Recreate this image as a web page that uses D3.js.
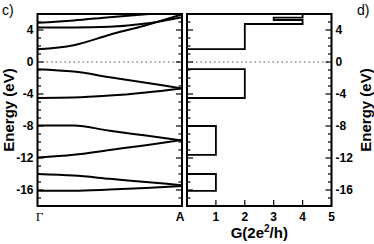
<!DOCTYPE html>
<html>
<head>
<meta charset="utf-8">
<script src="https://cdn.jsdelivr.net/npm/d3@7"></script>
<style>
  body { margin: 0; background: #fff; }
  svg text { font-family: "Liberation Sans", Arial, sans-serif; }
</style>
</head>
<body>
<div id="chart"></div>
<script>
var svgWidth = 374;
var svgHeight = 244;

// band structure, k from Gamma (0) to A (1)
var kPoints = [0, 0.25, 0.5, 0.75, 1];
var bands = [
  [4.9, 5.2, 5.6, 5.97, 6.3],
  [4.3, 4.3, 4.4, 4.8, 5.6],
  [1.6, 2.1, 3.4, 4.6, 5.95],
  [-0.9, -1.2, -1.9, -2.6, -3.3],
  [-4.5, -4.45, -4.2, -3.8, -3.3],
  [-7.95, -7.95, -8.6, -9.2, -9.8],
  [-11.95, -11.6, -11.0, -10.4, -9.75],
  [-14.0, -14.2, -14.6, -15.0, -15.4],
  [-16.1, -16.1, -15.95, -15.75, -15.5]
];

// conductance staircase vertices (G in 2e^2/h, E in eV)
var condG = [4, 4, 3, 3, 4, 4, 2, 2, 0, 0, 2, 2, 0, 0, 1, 1, 0, 0, 1, 1, 0, 0];
var condE = [6, 5.55, 5.55, 5.25, 5.25, 4.75, 4.75, 1.6, 1.6, -0.9, -0.9, -4.5, -4.5, -8, -8, -11.6, -11.6, -14, -14, -16.1, -16.1, -18];

var energyTicks = [4, 0, -4, -8, -12, -16];
var gTicks = [1, 2, 3, 4, 5];

var plotTop = 14, plotBottom = 206;
var leftPanel = { x0: 37.5, x1: 182 };
var rightPanel = { x0: 187, x1: 331.5 };

var svg = d3.select("#chart")
  .append("svg")
  .attr("width", svgWidth)
  .attr("height", svgHeight);

var yScale = d3.scaleLinear().domain([-18, 6]).range([plotBottom, plotTop]);
var kScale = d3.scaleLinear().domain([0, 1]).range([leftPanel.x0, leftPanel.x1]);
var gScale = d3.scaleLinear().domain([0, 5]).range([rightPanel.x0, rightPanel.x1]);

var minorTicks = d3.range(-18, 7, 1);

// clip for bands
svg.append("clipPath").attr("id", "clipL")
  .append("rect")
  .attr("x", leftPanel.x0).attr("y", plotTop)
  .attr("width", leftPanel.x1 - leftPanel.x0).attr("height", plotBottom - plotTop);

// zero lines (dotted)
[[leftPanel.x0, leftPanel.x1], [rightPanel.x0, rightPanel.x1]].forEach(function (p) {
  svg.append("line")
    .attr("x1", p[0]).attr("x2", p[1])
    .attr("y1", yScale(0)).attr("y2", yScale(0))
    .attr("stroke", "#555")
    .attr("stroke-width", 1.2)
    .attr("stroke-dasharray", "1.5,3");
});

// bands
var bandLine = d3.line()
  .x(function (d, i) { return kScale(kPoints[i]); })
  .y(function (d) { return yScale(d); })
  .curve(d3.curveMonotoneX);

svg.append("g")
  .attr("clip-path", "url(#clipL)")
  .selectAll("path")
  .data(bands)
  .enter()
  .append("path")
  .attr("d", bandLine)
  .attr("fill", "none")
  .attr("stroke", "#000")
  .attr("stroke-width", 2);

// conductance
var condLine = d3.line()
  .x(function (d) { return gScale(d); })
  .y(function (d, i) { return yScale(condE[i]); });

svg.append("path")
  .attr("d", condLine(condG))
  .attr("fill", "none")
  .attr("stroke", "#000")
  .attr("stroke-width", 1.8);

// y ticks (inward) on both sides of both panels
function yTicks(x, dir) {
  svg.append("g").selectAll("line")
    .data(minorTicks)
    .enter()
    .append("line")
    .attr("x1", x).attr("x2", function (d) { return x + dir * (d % 4 === 0 ? 6 : 3.5); })
    .attr("y1", function (d) { return yScale(d); })
    .attr("y2", function (d) { return yScale(d); })
    .attr("stroke", "#000")
    .attr("stroke-width", 1.2);
}
yTicks(leftPanel.x0, 1);
yTicks(leftPanel.x1, -1);
yTicks(rightPanel.x0, 1);
yTicks(rightPanel.x1, -1);

// x ticks on conductance panel
svg.append("g").selectAll("line")
  .data(gTicks)
  .enter()
  .append("line")
  .attr("x1", function (d) { return gScale(d); })
  .attr("x2", function (d) { return gScale(d); })
  .attr("y1", plotBottom).attr("y2", plotBottom - 6)
  .attr("stroke", "#000")
  .attr("stroke-width", 1.2);

// frames
[leftPanel, rightPanel].forEach(function (p) {
  svg.append("rect")
    .attr("x", p.x0).attr("y", plotTop)
    .attr("width", p.x1 - p.x0).attr("height", plotBottom - plotTop)
    .attr("fill", "none")
    .attr("stroke", "#000")
    .attr("stroke-width", 2);
});

// tick labels
svg.append("g").selectAll("text")
  .data(energyTicks)
  .enter()
  .append("text")
  .attr("x", leftPanel.x0 - 4)
  .attr("y", function (d) { return yScale(d); })
  .attr("dy", "0.36em")
  .attr("text-anchor", "end")
  .attr("font-size", 12)
  .attr("font-weight", "bold")
  .text(function (d) { return d; });

svg.append("g").selectAll("text")
  .data(energyTicks)
  .enter()
  .append("text")
  .attr("x", rightPanel.x1 + 4)
  .attr("y", function (d) { return yScale(d); })
  .attr("dy", "0.36em")
  .attr("text-anchor", "start")
  .attr("font-size", 12)
  .attr("font-weight", "bold")
  .text(function (d) { return d; });

svg.append("g").selectAll("text")
  .data(gTicks)
  .enter()
  .append("text")
  .attr("x", function (d) { return gScale(d); })
  .attr("y", plotBottom + 15)
  .attr("text-anchor", "middle")
  .attr("font-size", 12)
  .attr("font-weight", "bold")
  .text(function (d) { return d; });

svg.append("text")
  .attr("x", kScale(0) + 2)
  .attr("y", plotBottom + 15)
  .attr("text-anchor", "middle")
  .attr("font-size", 13)
  .style("font-family", "'Liberation Serif', 'Times New Roman', serif")
  .text("Γ");

svg.append("text")
  .attr("x", kScale(1) - 2)
  .attr("y", plotBottom + 15)
  .attr("text-anchor", "middle")
  .attr("font-size", 12)
  .attr("font-weight", "bold")
  .text("A");

// axis titles
var xTitle = svg.append("text")
  .attr("x", gScale(2.5))
  .attr("y", 238)
  .attr("text-anchor", "middle")
  .attr("font-size", 15)
  .attr("font-weight", "bold");
xTitle.append("tspan").text("G(2e");
xTitle.append("tspan").attr("dy", -6).attr("font-size", 10).text("2");
xTitle.append("tspan").attr("dy", 6).text("/h)");

svg.append("text")
  .attr("transform", "translate(14,110) rotate(-90)")
  .attr("text-anchor", "middle")
  .attr("font-size", 15)
  .attr("font-weight", "bold")
  .text("Energy (eV)");

svg.append("text")
  .attr("transform", "translate(371,110) rotate(-90)")
  .attr("text-anchor", "middle")
  .attr("font-size", 15)
  .attr("font-weight", "bold")
  .text("Energy (eV)");

// panel letters
svg.append("text").attr("x", 2).attr("y", 15).attr("font-size", 14).text("c)");
svg.append("text").attr("x", 357).attr("y", 15).attr("font-size", 14).text("d)");
</script>
</body>
</html>
